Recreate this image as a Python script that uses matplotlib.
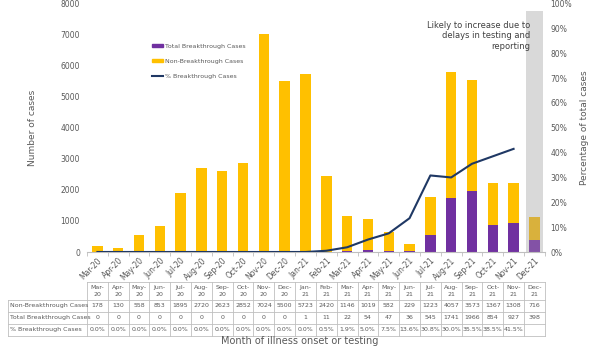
import matplotlib.pyplot as plt
from matplotlib.lines import Line2D
from matplotlib.patches import Patch
import numpy as np

mois = ["Mar-20", "Apr-20", "May-20", "Jun-20", "Jul-20", "Aug-20", "Sep-20", "Oct-20",
        "Nov-20", "Dec-20", "Jan-21", "Feb-21", "Mar-21", "Apr-21", "May-21", "Jun-21",
        "Jul-21", "Aug-21", "Sep-21", "Oct-21", "Nov-21", "Dec-21"]
non_breakthrough = [178, 130, 558, 853, 1895, 2720, 2623, 2852, 7024, 5500, 5723, 2420,
                    1146, 1019, 582, 229, 1223, 4057, 3573, 1367, 1308, 716]
breakthrough = [0, 0, 0, 0, 0, 0, 0, 0, 0, 0, 1, 11, 22, 54, 47, 36, 545, 1741, 1966,
                854, 927, 398]
pct_breakthrough = [0.0, 0.0, 0.0, 0.0, 0.0, 0.0, 0.0, 0.0, 0.0, 0.0, 0.0, 0.5, 1.9, 5.0,
                    7.5, 13.6, 30.8, 30.0, 35.5, 38.5, 41.5]

JAUNE = "#FFC000"
VIOLET = "#7030A0"
MARINE = "#1F3864"
GRIS_TXT = "#595959"
GRIS_LIGNE = "#BFBFBF"

n = len(mois)
x = np.arange(n)

fig = plt.figure(figsize=(6, 3.5), dpi=100)
ax = fig.add_axes([0.145, 0.28, 0.763, 0.71])

# bande grise pour le dernier mois
ax.axvspan(n - 1 - 0.41, n - 1 + 0.41, ymin=0, ymax=0.97, color="#D9D9D9", zorder=0, lw=0)

coul_j = [JAUNE] * (n - 1) + ["#D9B13C"]
coul_v = [VIOLET] * (n - 1) + ["#8352A6"]
ax.bar(x, breakthrough, width=0.5, color=coul_v, zorder=2)
ax.bar(x, non_breakthrough, width=0.5, bottom=breakthrough, color=coul_j, zorder=2)

ax.set_xlim(-0.5, n - 0.5)
ax.set_ylim(0, 8000)
ax.set_yticks(range(0, 8001, 1000))
ax.tick_params(axis="y", length=0, labelsize=5.5, labelcolor=GRIS_TXT, pad=5)
ax.set_xticks(x)
ax.set_xticklabels(mois, rotation=45, ha="right", rotation_mode="anchor",
                   fontsize=5.5, color=GRIS_TXT)
ax.tick_params(axis="x", length=0, pad=3)
ax.set_xticks(np.arange(-0.5, n, 1), minor=True)
ax.tick_params(axis="x", which="minor", length=3, color=GRIS_LIGNE, width=0.6)
for s in ["top", "left", "right"]:
    ax.spines[s].set_visible(False)
ax.spines["bottom"].set_color(GRIS_LIGNE)
ax.spines["bottom"].set_linewidth(0.8)
ax.set_ylabel("Number of cases", fontsize=6.5, color=GRIS_TXT, labelpad=17)

ax2 = ax.twinx()
ax2.plot(x[:len(pct_breakthrough)], np.array(pct_breakthrough) / 100, color=MARINE,
         lw=1.5, zorder=3)
ax2.set_ylim(0, 1)
ax2.set_yticks(np.arange(0, 1.01, 0.1))
ax2.set_yticklabels([f"{int(round(v * 100))}%" for v in np.arange(0, 1.01, 0.1)])
ax2.tick_params(axis="y", length=0, labelsize=5.5, labelcolor=GRIS_TXT, pad=4)
for s in ["top", "left", "right", "bottom"]:
    ax2.spines[s].set_visible(False)
ax2.set_ylabel("Percentage of total cases", fontsize=6.5, color=GRIS_TXT, labelpad=6)

ax.text(n - 1.2, 7450, "Likely to increase due to\ndelays in testing and\nreporting",
        ha="right", va="top", fontsize=6, color="#404040", linespacing=1.25, zorder=4)

poignees = [Patch(color=VIOLET), Patch(color=JAUNE), Line2D([0], [0], color=MARINE, lw=1.5)]
ax.legend(poignees, ["Total Breakthrough Cases", "Non-Breakthrough Cases", "% Breakthrough Cases"],
          loc="upper left", bbox_to_anchor=(0.13, 0.86), frameon=False, fontsize=4.5,
          labelcolor=GRIS_TXT, handlelength=1.8, handleheight=0.5, labelspacing=1.6,
          handletextpad=0.3)

# ── tableau sous le graphique ───────────────────────────────────────────────
trans = ax.get_xaxis_transform()
col_g = -0.5 - 79 / 20.8  # largeur de la colonne des libellés
h_tete = 18 / 249.0
h_ligne = 12 / 249.0
y_haut = -30 / 249.0
lignes = [
    ("Non-Breakthrough Cases", [str(v) for v in non_breakthrough]),
    ("Total Breakthrough Cases", [str(v) for v in breakthrough]),
    ("% Breakthrough Cases", [f"{v:.1f}%" for v in pct_breakthrough] + [""]),
]
y_bas = y_haut - h_tete - h_ligne * len(lignes)
kw = dict(transform=trans, color=GRIS_LIGNE, lw=0.6, clip_on=False)
# lignes horizontales
ax.plot([-0.5, n - 0.5], [y_haut, y_haut], **kw)
yy = y_haut - h_tete
for i in range(len(lignes) + 1):
    ax.plot([col_g, n - 0.5], [yy - i * h_ligne] * 2, **kw)
# lignes verticales
for b in np.arange(-0.5, n, 1):
    ax.plot([b, b], [y_haut, y_bas], **kw)
ax.plot([col_g, col_g], [y_haut - h_tete, y_bas], **kw)

tkw = dict(transform=trans, fontsize=4.5, color=GRIS_TXT, ha="center", va="center",
           clip_on=False)
for i, m in enumerate(mois):
    a, b = m.split("-")
    ax.text(i, y_haut - h_tete / 2, f"{a}-\n{b}", linespacing=1.4, **tkw)
for k, (lib, vals) in enumerate(lignes):
    yc = y_haut - h_tete - h_ligne * (k + 0.5)
    ax.text(col_g + 0.12, yc, lib, transform=trans, fontsize=4.5, color=GRIS_TXT,
            ha="left", va="center", clip_on=False)
    for i, v in enumerate(vals):
        ax.text(i, yc, v, **tkw)

fig.text(0.5, 0.025, "Month of illness onset or testing", ha="center", va="center",
         fontsize=7, color=GRIS_TXT)

fig.savefig("out.png", dpi=100)
